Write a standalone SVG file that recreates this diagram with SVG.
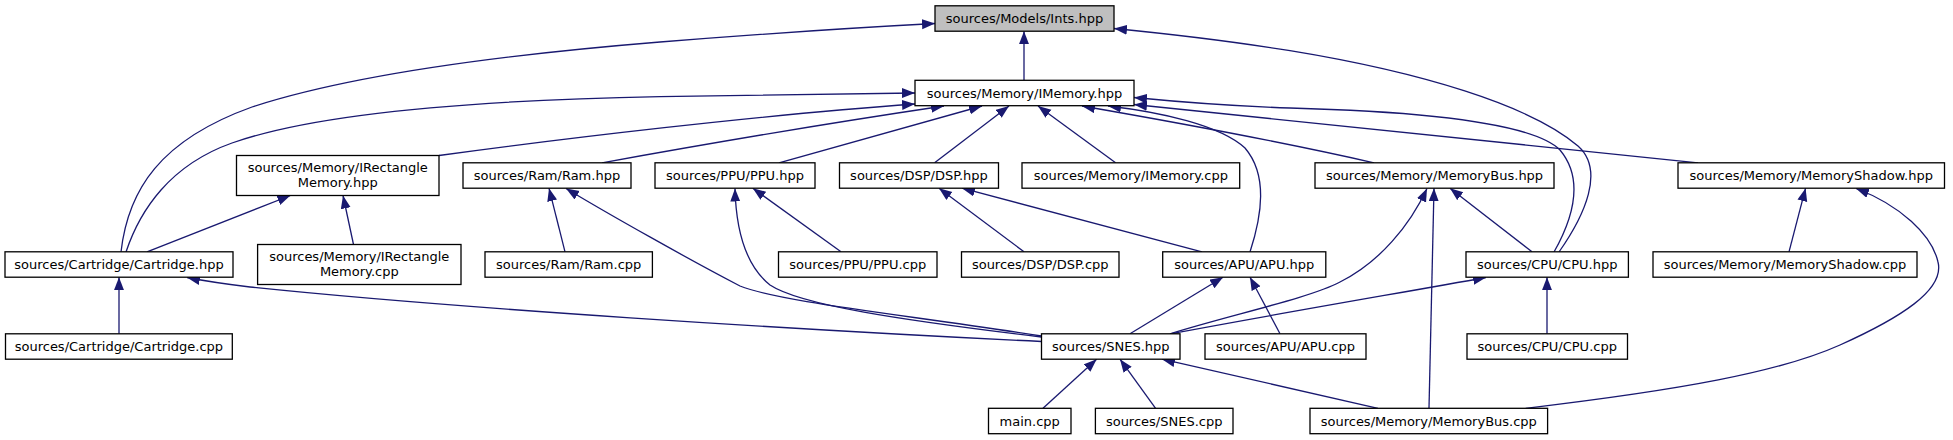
<svg xmlns="http://www.w3.org/2000/svg" width="1953" height="440" viewBox="0 0 1953 440">
<style>
.n rect{fill:#fff;stroke:#000;stroke-width:1.3}
.n text{font-family:"DejaVu Sans",sans-serif;font-size:13px;fill:#000;text-anchor:middle}
#n_ints rect{fill:#bfbfbf}
.e path{fill:none;stroke:#191970;stroke-width:1.3;marker-end:url(#arr)}
</style>
<defs>
<marker id="arr" markerUnits="userSpaceOnUse" markerWidth="14" markerHeight="11" refX="13" refY="5" orient="auto">
<path d="M0,0 L13,5 L0,10 z" fill="#191970"/>
</marker>
</defs>
<rect width="1953" height="440" fill="#fff"/>
<g id="edges" class="e">
<path d="M1024,80.3 L1024,31.2"/>
<path d="M121,252 C128,190 160,140 252,107 C350,75 500,55 660,42 C760,34 850,28 935,23.5"/>
<path d="M1559,252 C1585,215 1605,170 1578,146 C1530,105 1420,72 1290,50.7 C1230,41 1170,34 1114,28.5"/>
<path d="M126,252 C140,210 170,165 232,143 C320,112 480,100 660,96.7 C760,95 840,93.5 915,93"/>
<path d="M439,155.5 C560,139 760,115 915,104"/>
<path d="M602,162.8 C700,145 850,120 944,106"/>
<path d="M779,162.8 L982,106"/>
<path d="M934.6,162.8 L1009,106"/>
<path d="M1115.6,162.8 L1038,106"/>
<path d="M1374,162.8 C1300,146 1180,123 1082,106"/>
<path d="M1250,252 C1262,215 1268,175 1245,148 C1220,125 1160,112 1108,106"/>
<path d="M1554,252 C1572,220 1585,180 1560,150 C1535,125 1440,112 1290,108 C1230,106 1180,102 1134,97.5"/>
<path d="M1698,162.8 L1134,104.5"/>
<path d="M147,251.8 L290.4,195.5"/>
<path d="M353.5,244.5 L343,195.5"/>
<path d="M565,251.8 L549,188.2"/>
<path d="M1041.5,336 C900,314 780,302 740,286 C690,260 610,215 566,188.5"/>
<path d="M841,251.8 L752.8,188.2"/>
<path d="M1041.5,337 C900,320 800,305 770,285 C745,265 736,230 735,188.5"/>
<path d="M1024,251.8 L939,188.2"/>
<path d="M1202,251.8 L962,188.2"/>
<path d="M1170,333.8 C1230,315 1310,298 1340,282 C1380,262 1410,225 1427,188.5"/>
<path d="M1429,408.3 L1434,188.2"/>
<path d="M1532,251.8 L1450,188.2"/>
<path d="M1789,251.8 L1805.6,188.2"/>
<path d="M1525.7,408.3 C1680,390 1780,372 1840,345 C1900,318 1945,290 1938,262 C1932,235 1900,205 1856,188.5"/>
<path d="M119,333.8 L119,277.2"/>
<path d="M1041.5,341.5 C800,330 450,308 250,287 C225,284 205,281 187,277.5"/>
<path d="M1130,333.8 L1223,277.2"/>
<path d="M1280,333.8 L1250,277.2"/>
<path d="M1170,334 C1270,315 1400,293 1486,277.5"/>
<path d="M1547,333.8 L1547,277.2"/>
<path d="M1043,408.3 L1096.6,359.2"/>
<path d="M1155.6,408.3 L1120,359.2"/>
<path d="M1378,408.3 L1162,359.2"/>
</g>
<g id="n_ints" class="n"><rect x="935" y="5.8" width="179" height="25.4"/><text x="1024.5" y="23.2">sources/Models/Ints.hpp</text></g>
<g id="n_imem" class="n"><rect x="915" y="80.3" width="219" height="25.4"/><text x="1024.5" y="97.7">sources/Memory/IMemory.hpp</text></g>
<g id="n_irhpp" class="n"><rect x="236.5" y="155.5" width="202.5" height="40"/><text x="337.75" y="171.5">sources/Memory/IRectangle</text><text x="337.75" y="186.5">Memory.hpp</text></g>
<g id="n_ramh" class="n"><rect x="463" y="162.8" width="168" height="25.4"/><text x="547" y="180.2">sources/Ram/Ram.hpp</text></g>
<g id="n_ppuh" class="n"><rect x="655" y="162.8" width="160" height="25.4"/><text x="735" y="180.2">sources/PPU/PPU.hpp</text></g>
<g id="n_dsph" class="n"><rect x="839.5" y="162.8" width="159" height="25.4"/><text x="919" y="180.2">sources/DSP/DSP.hpp</text></g>
<g id="n_imcpp" class="n"><rect x="1022" y="162.8" width="217.7" height="25.4"/><text x="1130.85" y="180.2">sources/Memory/IMemory.cpp</text></g>
<g id="n_mbh" class="n"><rect x="1315" y="162.8" width="239" height="25.4"/><text x="1434.5" y="180.2">sources/Memory/MemoryBus.hpp</text></g>
<g id="n_msh" class="n"><rect x="1678" y="162.8" width="266.5" height="25.4"/><text x="1811.25" y="180.2">sources/Memory/MemoryShadow.hpp</text></g>
<g id="n_carth" class="n"><rect x="5" y="251.8" width="228" height="25.4"/><text x="119" y="269.2">sources/Cartridge/Cartridge.hpp</text></g>
<g id="n_ircpp" class="n"><rect x="257.6" y="244.5" width="203.4" height="40"/><text x="359.3" y="260.5">sources/Memory/IRectangle</text><text x="359.3" y="275.5">Memory.cpp</text></g>
<g id="n_ramc" class="n"><rect x="485" y="251.8" width="167.4" height="25.4"/><text x="568.7" y="269.2">sources/Ram/Ram.cpp</text></g>
<g id="n_ppuc" class="n"><rect x="778.5" y="251.8" width="158.5" height="25.4"/><text x="857.75" y="269.2">sources/PPU/PPU.cpp</text></g>
<g id="n_dspc" class="n"><rect x="961.5" y="251.8" width="157.5" height="25.4"/><text x="1040.25" y="269.2">sources/DSP/DSP.cpp</text></g>
<g id="n_apuh" class="n"><rect x="1162.7" y="251.8" width="163.1" height="25.4"/><text x="1244.25" y="269.2">sources/APU/APU.hpp</text></g>
<g id="n_cpuh" class="n"><rect x="1466" y="251.8" width="162.4" height="25.4"/><text x="1547.2" y="269.2">sources/CPU/CPU.hpp</text></g>
<g id="n_msc" class="n"><rect x="1653" y="251.8" width="264" height="25.4"/><text x="1785" y="269.2">sources/Memory/MemoryShadow.cpp</text></g>
<g id="n_cartc" class="n"><rect x="5.5" y="333.8" width="226.8" height="25.4"/><text x="118.9" y="351.2">sources/Cartridge/Cartridge.cpp</text></g>
<g id="n_snesh" class="n"><rect x="1041.5" y="333.8" width="138.5" height="25.4"/><text x="1110.75" y="351.2">sources/SNES.hpp</text></g>
<g id="n_apuc" class="n"><rect x="1205" y="333.8" width="161" height="25.4"/><text x="1285.5" y="351.2">sources/APU/APU.cpp</text></g>
<g id="n_cpuc" class="n"><rect x="1467" y="333.8" width="160.5" height="25.4"/><text x="1547.25" y="351.2">sources/CPU/CPU.cpp</text></g>
<g id="n_main" class="n"><rect x="988.5" y="408.3" width="82.5" height="25.4"/><text x="1029.75" y="425.7">main.cpp</text></g>
<g id="n_snesc" class="n"><rect x="1095.4" y="408.3" width="137.6" height="25.4"/><text x="1164.2" y="425.7">sources/SNES.cpp</text></g>
<g id="n_mbc" class="n"><rect x="1310" y="408.3" width="237.6" height="25.4"/><text x="1428.8" y="425.7">sources/Memory/MemoryBus.cpp</text></g>
</svg>
